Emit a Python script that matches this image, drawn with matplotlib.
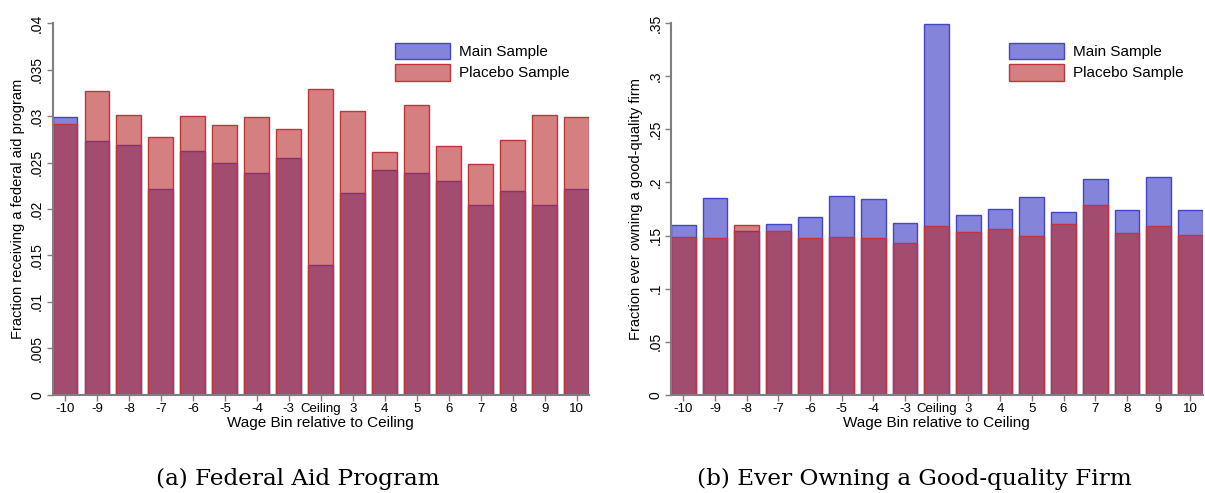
import matplotlib
matplotlib.use("Agg")
import matplotlib.pyplot as plt
import numpy as np

# wage bins relative to the ceiling
bins = ["-10", "-9", "-8", "-7", "-6", "-5", "-4", "-3", "Ceiling",
        "3", "4", "5", "6", "7", "8", "9", "10"]

# (a) federal aid program
aid_main = [0.0299, 0.02735, 0.0269, 0.0222, 0.0263, 0.0250, 0.0239, 0.0255, 0.0140,
            0.0217, 0.02425, 0.0239, 0.0230, 0.0204, 0.0219, 0.0204, 0.0222]
aid_placebo = [0.0292, 0.0327, 0.0301, 0.0278, 0.0300, 0.0290, 0.0299, 0.0286, 0.0329,
               0.0306, 0.0261, 0.0312, 0.0268, 0.0248, 0.0274, 0.0301, 0.0299]

# (b) ever owning a good-quality firm
firm_main = [0.160, 0.185, 0.154, 0.161, 0.167, 0.187, 0.1846, 0.162, 0.349,
             0.1695, 0.175, 0.1865, 0.172, 0.203, 0.1745, 0.205, 0.1736]
firm_placebo = [0.149, 0.148, 0.160, 0.1547, 0.1478, 0.1487, 0.1478, 0.1434, 0.1588,
                0.1538, 0.1566, 0.1497, 0.161, 0.179, 0.1528, 0.1594, 0.1509]

plt.rcParams['font.family'] = ['Liberation Sans', 'DejaVu Sans']

blue_face = (0.20, 0.20, 0.76, 0.6)
blue_edge = (0.27, 0.27, 0.80)
red_face = (0.72, 0.14, 0.14, 0.58)
red_edge = (0.76, 0.20, 0.24)
spine_col = "#7f7f7f"

fig = plt.figure(figsize=(12.05, 4.93), dpi=100)
ax1 = fig.add_axes([0.0436, 0.1994, 0.4452, 0.7533])
ax2 = fig.add_axes([0.5568, 0.1994, 0.4412, 0.7533])

x = np.arange(len(bins))
width = 0.78


def draw_panel(ax, main, placebo, ymax, yticks, ylabels, ylabel):
    ax.bar(x, main, width, facecolor=blue_face, edgecolor=blue_edge, linewidth=1.0,
           label="Main Sample")
    ax.bar(x, placebo, width, facecolor=red_face, edgecolor=red_edge, linewidth=1.0,
           label="Placebo Sample")
    ax.set_xlim(-0.39, 16.39)
    ax.set_ylim(0, ymax)
    ax.set_xticks(x)
    ax.set_xticklabels(bins, fontsize=9.5)
    ax.set_yticks(yticks)
    ax.set_yticklabels(ylabels, rotation=90, va="center", fontsize=10)
    ax.set_xlabel("Wage Bin relative to Ceiling", fontsize=11, labelpad=1)
    ax.set_ylabel(ylabel, fontsize=10.5, labelpad=4)
    for s in ["top", "right"]:
        ax.spines[s].set_visible(False)
    for s in ["left", "bottom"]:
        ax.spines[s].set_color(spine_col)
        ax.spines[s].set_linewidth(1.5)
    ax.tick_params(axis="both", color=spine_col, length=4, width=1, pad=2)
    ax.legend(loc="upper right", bbox_to_anchor=(0.99, 0.985), frameon=False,
              fontsize=11, handlelength=3.6, handleheight=1.3, labelspacing=0.3,
              handletextpad=0.6)


draw_panel(ax1, aid_main, aid_placebo, 0.04,
           [0, 0.005, 0.01, 0.015, 0.02, 0.025, 0.03, 0.035, 0.04],
           ["0", ".005", ".01", ".015", ".02", ".025", ".03", ".035", ".04"],
           "Fraction receiving a federal aid program")
draw_panel(ax2, firm_main, firm_placebo, 0.35,
           [0, 0.05, 0.1, 0.15, 0.2, 0.25, 0.3, 0.35],
           ["0", ".05", ".1", ".15", ".2", ".25", ".3", ".35"],
           "Fraction ever owning a good-quality firm")

fig.text(0.247, 0.006, "(a) Federal Aid Program", ha="center", va="bottom",
         fontsize=16.7, family="DejaVu Serif")
fig.text(0.759, 0.006, "(b) Ever Owning a Good-quality Firm", ha="center", va="bottom",
         fontsize=16.7, family="DejaVu Serif")

fig.savefig("out.png", dpi=100)
